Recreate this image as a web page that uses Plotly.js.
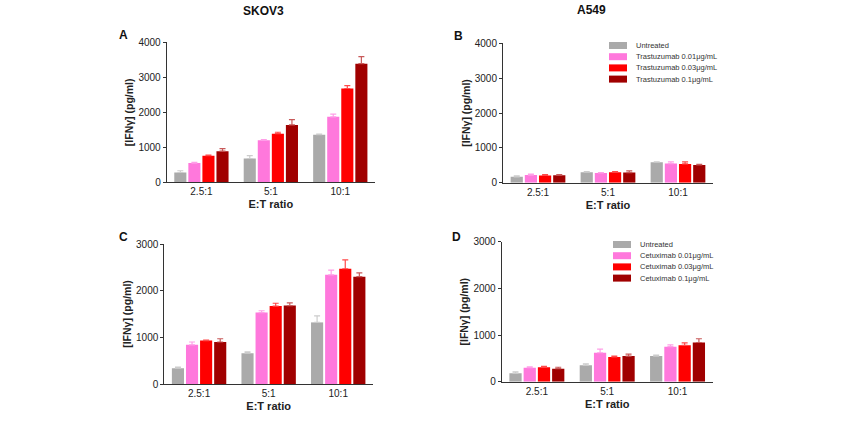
<!DOCTYPE html>
<html>
<head>
<meta charset="utf-8">
<script src="https://cdn.plot.ly/plotly-3.0.1.min.js"></script>
<style>
  html, body { margin: 0; padding: 0; background: #fff; }
  #chart { width: 855px; height: 422px; }
</style>
</head>
<body>
<div id="chart"></div>
<script>
// E:T ratio categories shared by all four panels
const ratios = ['2.5:1', '5:1', '10:1'];

// Series names per antibody
const trastuzumabNames = ['Untreated', 'Trastuzumab 0.01μg/mL', 'Trastuzumab 0.03μg/mL', 'Trastuzumab 0.1μg/mL'];
const cetuximabNames = ['Untreated', 'Cetuximab 0.01μg/mL', 'Cetuximab 0.03μg/mL', 'Cetuximab 0.1μg/mL'];

// IFNγ (pg/ml), one array per series, ordered as ratios
// Panel A: SKOV3 + Trastuzumab
const skovTrasUntreated = [280, 680, 1360];
const skovTras001 = [550, 1200, 1870];
const skovTras003 = [760, 1390, 2680];
const skovTras01 = [890, 1640, 3390];
const skovTrasUntreatedErr = [50, 80, 20];
const skovTras001Err = [20, 20, 80];
const skovTras003Err = [20, 40, 80];
const skovTras01Err = [70, 150, 200];

// Panel B: A549 + Trastuzumab
const a549TrasUntreated = [170, 300, 590];
const a549Tras001 = [220, 280, 550];
const a549Tras003 = [210, 300, 540];
const a549Tras01 = [215, 290, 510];
const a549TrasUntreatedErr = [30, 15, 10];
const a549Tras001Err = [30, 10, 50];
const a549Tras003Err = [20, 15, 60];
const a549Tras01Err = [15, 50, 20];

// Panel C: SKOV3 + Cetuximab
const skovCetUntreated = [340, 660, 1320];
const skovCet001 = [840, 1530, 2340];
const skovCet003 = [930, 1670, 2470];
const skovCet01 = [900, 1680, 2300];
const skovCetUntreatedErr = [20, 30, 140];
const skovCet001Err = [60, 40, 100];
const skovCet003Err = [10, 60, 190];
const skovCet01Err = [70, 60, 80];

// Panel D: A549 + Cetuximab
const a549CetUntreated = [180, 350, 550];
const a549Cet001 = [300, 620, 750];
const a549Cet003 = [310, 530, 780];
const a549Cet01 = [280, 550, 840];
const a549CetUntreatedErr = [30, 30, 20];
const a549Cet001Err = [20, 80, 40];
const a549Cet003Err = [20, 20, 50];
const a549Cet01Err = [30, 40, 80];

// Axis tick values
const ticksA = [0, 1000, 2000, 3000, 4000];
const ticksC = [0, 1000, 2000, 3000];

const barColors = ['#aaaaaa', '#ff78dc', '#ff0000', '#a00000'];
const errColors = ['#cccccc', '#ff9fe8', '#ff4a4a', '#c85a5a'];

const W = 855, H = 422;
const px = x => x / W;           // horizontal pixel -> paper
const py = y => 1 - y / H;       // vertical pixel (from top) -> paper

const FONT = 'Liberation Sans, Arial, sans-serif';

const panels = [
  { xa: 'x',  ya: 'y',  names: trastuzumabNames,
    vals: [skovTrasUntreated, skovTras001, skovTras003, skovTras01],
    errs: [skovTrasUntreatedErr, skovTras001Err, skovTras003Err, skovTras01Err] },
  { xa: 'x2', ya: 'y2', names: trastuzumabNames,
    vals: [a549TrasUntreated, a549Tras001, a549Tras003, a549Tras01],
    errs: [a549TrasUntreatedErr, a549Tras001Err, a549Tras003Err, a549Tras01Err] },
  { xa: 'x3', ya: 'y3', names: cetuximabNames,
    vals: [skovCetUntreated, skovCet001, skovCet003, skovCet01],
    errs: [skovCetUntreatedErr, skovCet001Err, skovCet003Err, skovCet01Err] },
  { xa: 'x4', ya: 'y4', names: cetuximabNames,
    vals: [a549CetUntreated, a549Cet001, a549Cet003, a549Cet01],
    errs: [a549CetUntreatedErr, a549Cet001Err, a549Cet003Err, a549Cet01Err] }
];

const traces = [];
panels.forEach(p => {
  p.vals.forEach((v, i) => {
    traces.push({
      type: 'bar',
      name: p.names[i],
      x: ratios,
      y: v,
      xaxis: p.xa,
      yaxis: p.ya,
      showlegend: false,
      marker: { color: barColors[i], line: { width: 0 } },
      error_y: {
        type: 'data', symmetric: false, array: p.errs[i],
        arrayminus: v.map(() => 0),
        color: errColors[i], thickness: 1.2, width: 3
      },
      hoverinfo: 'x+y+name'
    });
  });
});

function xAxis(domain, anchor) {
  return {
    domain: domain, anchor: anchor, type: 'category', range: [-0.5, 2.5],
    showline: true, linecolor: '#333', linewidth: 1, ticks: '',
    showgrid: false, zeroline: false, fixedrange: true,
    tickfont: { family: FONT, size: 10, color: '#222' },
    title: { text: '<b>E:T ratio</b>', font: { family: FONT, size: 11, color: '#222' }, standoff: 4 }
  };
}
function yAxis(domain, anchor, max, tickvals) {
  return {
    domain: domain, anchor: anchor, range: [0, max],
    tickvals: tickvals, ticktext: tickvals.map(String),
    showline: true, linecolor: '#333', linewidth: 1,
    ticks: 'outside', ticklen: 3, tickcolor: '#333',
    showgrid: false, zeroline: false, fixedrange: true,
    tickfont: { family: FONT, size: 10, color: '#222' },
    title: { text: '<b>[IFNγ] (pg/ml)</b>', font: { family: FONT, size: 10.5, color: '#222' }, standoff: 2 }
  };
}

const annotations = [];
const shapes = [];

// Column headings and panel letters
const headings = [
  { t: 'SKOV3', x: 263, y: 11, s: 12 },
  { t: 'A549', x: 591, y: 10, s: 12 },
  { t: 'A', x: 123, y: 35, s: 12 },
  { t: 'B', x: 458, y: 36, s: 12 },
  { t: 'C', x: 123, y: 237, s: 12 },
  { t: 'D', x: 457, y: 237, s: 12 }
];
headings.forEach(h => annotations.push({
  xref: 'paper', yref: 'paper', x: px(h.x), y: py(h.y),
  xanchor: 'center', yanchor: 'middle', showarrow: false,
  text: '<b>' + h.t + '</b>', font: { family: FONT, size: h.s, color: '#111' }
}));

// Compact legends inside panels B and D
function legendBlock(names, left, top, step) {
  names.forEach((n, i) => {
    const cy = top + i * step;
    shapes.push({
      type: 'rect', xref: 'paper', yref: 'paper',
      x0: px(left), x1: px(left + 18), y0: py(cy - 3.5), y1: py(cy + 3.5),
      fillcolor: barColors[i], line: { width: 0 }
    });
    annotations.push({
      xref: 'paper', yref: 'paper', x: px(left + 25), y: py(cy),
      xanchor: 'left', yanchor: 'middle', showarrow: false,
      text: n, font: { family: FONT, size: 7.5, color: '#333' }
    });
  });
}
legendBlock(trastuzumabNames, 609, 45.5, 11.2);
legendBlock(cetuximabNames, 613, 244.5, 11.2);

const layout = {
  width: W, height: H,
  margin: { l: 0, r: 0, t: 0, b: 0 },
  paper_bgcolor: '#fff', plot_bgcolor: '#fff',
  showlegend: false,
  barmode: 'group', bargap: 0.19, bargroupgap: 0.14,
  font: { family: FONT },
  xaxis:  xAxis([px(166.7), px(375)], 'y'),
  yaxis:  yAxis([py(182.3), py(42.3)], 'x', 4000, ticksA),
  xaxis2: xAxis([px(503), px(713)], 'y2'),
  yaxis2: yAxis([py(182.7), py(43.3)], 'x2', 4000, ticksA),
  xaxis3: xAxis([px(164.3), px(373)], 'y3'),
  yaxis3: yAxis([py(384), py(244)], 'x3', 3000, ticksC),
  xaxis4: xAxis([px(501.7), px(712.7)], 'y4'),
  yaxis4: yAxis([py(381.7), py(241.7)], 'x4', 3000, ticksC),
  annotations: annotations,
  shapes: shapes
};

Plotly.newPlot('chart', traces, layout, { displayModeBar: false, staticPlot: true });
</script>
</body>
</html>
